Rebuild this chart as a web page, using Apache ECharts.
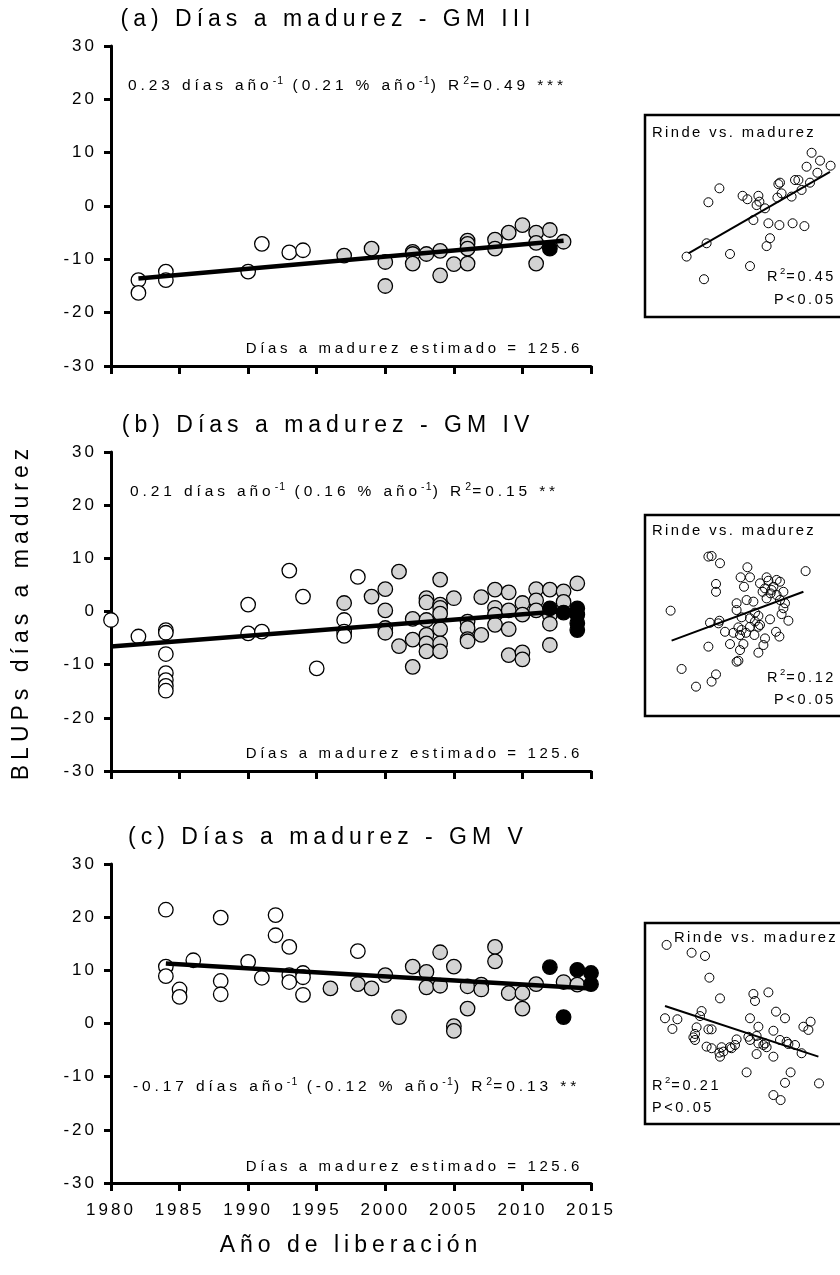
<!DOCTYPE html>
<html><head><meta charset="utf-8">
<script src="https://cdn.jsdelivr.net/npm/echarts@6/dist/echarts.min.js"></script>
<style>html,body{margin:0;padding:0;background:#fff}#c{width:840px;height:1275px}</style>
</head><body><div id="c"></div>
<script>
// ---------- DATA (year, BLUP days to maturity) ----------
const xTicks = [1980, 2015, 5];
const yTicks = [-30, 30, 10];

const gm3Blanco = [[1982,-13.9],[1982,-16.3],[1984,-12.3],[1984,-13.9],[1990,-12.3],[1991,-7.1],[1993,-8.7],[1994,-8.3]];
const gm3Gris = [[1997,-9.3],[1999,-8.0],[2000,-10.5],[2000,-15.0],[2002,-8.6],[2002,-9.0],[2002,-10.8],[2003,-9.0],[2004,-8.4],[2004,-13.0],[2005,-10.9],[2006,-6.5],[2006,-7.1],[2006,-8.0],[2006,-10.8],[2008,-6.3],[2008,-8.0],[2009,-5.0],[2010,-3.6],[2011,-5.0],[2011,-6.9],[2011,-10.8],[2012,-4.5],[2013,-6.7]];
const gm3Negro = [[2012,-8.0]];
const gm3Tendencia = [[1982,-13.6],[2013,-6.5]];

const gm4Blanco = [[1980,-1.6],[1982,-4.7],[1984,-3.5],[1984,-4.0],[1984,-8.0],[1984,-11.6],[1984,-12.9],[1984,-14.0],[1984,-14.9],[1990,1.3],[1990,-4.1],[1991,-3.8],[1993,7.7],[1994,2.8],[1995,-10.7],[1997,-1.6],[1997,-3.8],[1997,-4.6],[1998,6.5]];
const gm4Gris = [[1997,1.6],[1999,2.8],[2000,4.2],[2000,0.2],[2000,-3.1],[2000,-4.0],[2001,7.5],[2001,-6.5],[2002,-1.4],[2002,-5.3],[2002,-10.4],[2003,2.5],[2003,1.7],[2003,-1.6],[2003,-4.4],[2003,-6.0],[2003,-7.5],[2004,6.0],[2004,1.3],[2004,0.7],[2004,-0.4],[2004,-3.3],[2004,-6.0],[2004,-7.5],[2005,2.5],[2006,-1.9],[2006,-3.1],[2006,-5.2],[2006,-5.6],[2007,2.7],[2007,-4.4],[2008,4.1],[2008,0.7],[2008,-0.6],[2008,-2.5],[2009,3.6],[2009,0.2],[2009,-3.3],[2009,-8.2],[2010,1.6],[2010,-0.6],[2010,-7.7],[2010,-9.0],[2011,4.2],[2011,2.1],[2011,0.2],[2012,4.1],[2012,-0.7],[2012,-2.3],[2012,-6.3],[2013,3.8],[2013,1.8],[2014,5.3]];
const gm4Negro = [[2012,0.6],[2013,-0.2],[2014,0.6],[2014,-0.6],[2014,-2.2],[2014,-3.5]];
const gm4Tendencia = [[1980,-6.6],[2014,0.3]];

const gm5Blanco = [[1984,21.4],[1984,10.7],[1984,8.9],[1985,6.4],[1985,5.0],[1986,11.9],[1988,19.9],[1988,8.0],[1988,5.5],[1990,11.6],[1991,8.6],[1992,20.4],[1992,16.6],[1993,14.4],[1993,9.1],[1993,7.8],[1994,9.5],[1994,8.7],[1994,5.4],[1998,13.6]];
const gm5Gris = [[1996,6.6],[1998,7.4],[1999,6.6],[2000,9.1],[2001,1.2],[2002,10.7],[2003,9.7],[2003,6.8],[2004,13.4],[2004,7.1],[2005,10.7],[2005,-0.5],[2005,-1.4],[2006,7.0],[2006,2.8],[2007,7.3],[2007,6.4],[2008,14.4],[2008,11.7],[2009,5.7],[2010,5.7],[2010,2.8],[2011,7.4],[2013,7.8],[2014,7.3]];
const gm5Negro = [[2012,10.6],[2013,1.2],[2014,10.1],[2015,9.5],[2015,7.4]];
const gm5Tendencia = [[1984,11.3],[2015,6.6]];

// Insets: rinde vs. madurez (relative units 0-100)
const insetA = [[83.3,81.3],[87.5,77.4],[80.8,74.4],[92.8,74.9],[86.2,71.4],[67.5,66.5],[66.7,65.8],[75,67.8],[76.7,67.8],[82.5,66.5],[78.3,62.9],[37.2,63.7],[48.8,60.0],[56.7,60.0],[51.2,58.3],[31.7,56.8],[57.2,57.1],[55.8,55.4],[68.3,61.2],[66.2,59.1],[73.3,59.6],[60,53.8],[54.2,48.0],[61.7,46.4],[67.2,45.5],[73.8,46.4],[79.7,45.0],[62.5,39.0],[60.8,35.1],[30.8,36.5],[20.8,29.9],[42.5,31.2],[52.5,25.2],[29.5,18.7]];
const insetATendencia = [[21.7,31.5],[92.5,71.9]];
const insetB = [[31.7,79.3],[33.3,79.6],[37.5,76.0],[51.2,74.0],[80.3,72.1],[47.8,69.0],[52.5,69.0],[60.8,69.0],[65.8,67.7],[61.7,67.3],[67.5,66.8],[35.5,65.7],[49.5,64.3],[57.5,66.0],[60.0,63.5],[64.2,64.3],[63.3,62.7],[69.2,61.8],[35.5,61.8],[58.8,61.8],[62.8,61.0],[65.8,60.2],[50.8,57.7],[45.8,56.1],[54.2,56.9],[60.8,58.5],[67.5,57.7],[70.0,56.1],[12.8,52.4],[45.8,52.7],[55.0,51.4],[69.2,53.6],[68.3,50.7],[48.3,49.1],[52.5,48.6],[56.7,49.8],[71.7,47.4],[37.2,47.4],[32.5,46.4],[36.7,46.1],[55.0,47.0],[57.5,45.3],[62.5,48.1],[46.7,44.1],[48.3,42.8],[52.5,44.4],[56.7,44.4],[50.5,41.4],[40.0,41.9],[44.2,41.4],[47.5,40.3],[54.7,40.3],[65.5,41.9],[67.2,39.5],[60.0,38.6],[42.5,35.8],[49.2,35.8],[31.7,34.5],[59.2,35.3],[47.5,32.8],[56.7,31.5],[45.8,27.0],[46.7,27.5],[18.3,23.4],[35.5,20.7],[33.3,17.1],[25.5,14.6]];
const insetBTendencia = [[13.3,37.5],[79.2,61.8]];
const insetC = [[10.8,89.1],[23.3,85.2],[30.0,83.6],[32.2,72.8],[37.5,62.5],[54.2,64.7],[55.0,61.2],[61.7,65.5],[28.3,56.2],[27.5,53.7],[65.5,55.9],[10.0,52.6],[16.2,52.1],[52.5,52.6],[70.0,52.6],[82.8,50.9],[13.7,47.3],[56.7,48.4],[79.2,48.4],[81.7,46.8],[25.8,48.1],[31.7,47.1],[33.3,47.1],[64.2,46.4],[25.0,44.8],[24.2,43.1],[25.0,41.8],[30.8,38.5],[45.8,42.1],[45.0,39.3],[42.5,38.2],[33.3,37.7],[38.3,38.2],[39.2,36.0],[43.3,37.7],[51.7,43.4],[55.8,43.8],[52.5,41.8],[56.7,40.1],[59.2,39.3],[60.8,38.2],[60.0,40.1],[67.5,41.8],[70.8,40.9],[71.7,39.8],[75.0,39.3],[55.8,34.8],[64.2,33.5],[78.3,35.2],[37.5,33.5],[37.2,35.5],[50.8,25.7],[72.8,25.7],[70.0,20.5],[87.0,20.2],[64.2,14.4],[67.8,11.9]];
const insetCTendencia = [[10.0,58.7],[86.7,33.5]];

const titulos = ['(a) Días a madurez - GM III', '(b) Días a madurez - GM IV', '(c) Días a madurez - GM V'];
const regresiones = [
  '{t|0.23 días año}{s|-1}{t| (0.21 % año}{s|-1}{t|) R}{s|2}{t|=0.49 ***}',
  '{t|0.21 días año}{s|-1}{t| (0.16 % año}{s|-1}{t|) R}{s|2}{t|=0.15 **}',
  '{t|-0.17 días año}{s|-1}{t| (-0.12 % año}{s|-1}{t|) R}{s|2}{t|=0.13 **}'
];
const estimado = 'Días a madurez estimado = 125.6';
const insetR2 = ['{t|R}{s|2}{t|=0.45}', '{t|R}{s|2}{t|=0.12}', '{t|R}{s|2}{t|=0.21}'];
const insetP = 'P<0.05';
const insetTitulo = 'Rinde vs. madurez';

// ---------- letter spacing (Prism-like text) ----------
const SPACING = {'23':5, '17':3, '15.5':3.9, '10.5':1.2, '15':3.6, '14.5':2.6, '14.8':2.4, '9.5':1};
(function(){
  const P = CanvasRenderingContext2D.prototype;
  const d = Object.getOwnPropertyDescriptor(P, 'font');
  if (!d || !('letterSpacing' in P)) return;
  Object.defineProperty(P, 'font', {configurable:true, enumerable:d.enumerable,
    get(){ return d.get.call(this); },
    set(v){ d.set.call(this, v); const m = /(\d+(?:\.\d+)?)px/.exec(v); const s = m && SPACING[m[1]]; this.letterSpacing = (s || 0) + 'px'; }
  });
})();

const FONT = 'Liberation Sans';
const mainGrids = [{top:46,height:320},{top:452,height:319},{top:864,height:319}];
const insetGrids = [{top:115,height:202},{top:515,height:201},{top:923,height:201}];

const grid = [], xAxis = [], yAxis = [], series = [], graphic = [];
mainGrids.forEach((g, i) => {
  grid.push({left:111, width:480, top:g.top, height:g.height, outerBoundsMode:'none'});
  xAxis.push({type:'value', gridIndex:i, min:xTicks[0], max:xTicks[1], interval:xTicks[2],
    axisLine:{show:true, onZero:false, lineStyle:{color:'#000', width:3}},
    axisTick:{show:true, length:8, lineStyle:{color:'#000', width:3}},
    axisLabel:{show:i===2, color:'#000', fontSize:17, fontFamily:FONT, margin:17, formatter:v => String(v)},
    splitLine:{show:false}});
  yAxis.push({type:'value', gridIndex:i, min:yTicks[0], max:yTicks[1], interval:yTicks[2],
    axisLine:{show:true, onZero:false, lineStyle:{color:'#000', width:3}},
    axisTick:{show:true, length:7, lineStyle:{color:'#000', width:3}},
    axisLabel:{show:true, color:'#000', fontSize:17, fontFamily:FONT, margin:14, formatter:v => String(v)},
    splitLine:{show:false}});
});
insetGrids.forEach((g, i) => {
  grid.push({left:645, width:200, top:g.top, height:g.height, show:true, borderColor:'#000', borderWidth:2.5, backgroundColor:'#fff', outerBoundsMode:'none'});
  xAxis.push({type:'value', gridIndex:3+i, min:0, max:100, show:false, splitLine:{show:false}});
  yAxis.push({type:'value', gridIndex:3+i, min:0, max:100, show:false, splitLine:{show:false}});
});

function scatter(idx, data, color, size, bw){
  return {type:'scatter', xAxisIndex:idx, yAxisIndex:idx, data, symbol:'circle', symbolSize:size, clip:false, silent:true,
    itemStyle:{color, borderColor:'#000', borderWidth:bw, opacity:1}, emphasis:{disabled:true}, z:2};
}
function trend(idx, data, w){
  return {type:'line', xAxisIndex:idx, yAxisIndex:idx, data, showSymbol:false, symbol:'none', silent:true, clip:false,
    lineStyle:{color:'#000', width:w}, emphasis:{disabled:true}, z:3};
}
const panels = [[gm3Blanco,gm3Gris,gm3Negro,gm3Tendencia],[gm4Blanco,gm4Gris,gm4Negro,gm4Tendencia],[gm5Blanco,gm5Gris,gm5Negro,gm5Tendencia]];
panels.forEach((p, i) => {
  series.push(scatter(i, p[0], '#ffffff', 14.5, 1.3));
  series.push(scatter(i, p[1], '#d3d3d3', 14.5, 1.3));
  series.push(scatter(i, p[2], '#000000', 14.5, 1.3));
  series.push(trend(i, p[3], 4.5));
});
[[insetA,insetATendencia],[insetB,insetBTendencia],[insetC,insetCTendencia]].forEach((p, i) => {
  series.push(scatter(3+i, p[0], 'rgba(255,255,255,0)', 9, 1));
  series.push(trend(3+i, p[1], 2));
});

function txt(x, y, text, size, align, extra){
  return Object.assign({type:'text', x, y, silent:true, z:100,
    style:{text, fontSize:size, fontFamily:FONT, fill:'#000', align, textAlign:align, verticalAlign:'middle', textVerticalAlign:'middle'}}, extra||{});
}
function rich(x, y, text, size, sup, align){
  return {type:'text', x, y, silent:true, z:100,
    style:{text, fontFamily:FONT, fill:'#000', align, textAlign:align, verticalAlign:'middle', textVerticalAlign:'middle',
      rich:{t:{fontSize:size, fontFamily:FONT, color:'#000', lineHeight:size+5, verticalAlign:'bottom'},
            s:{fontSize:sup, fontFamily:FONT, color:'#000', lineHeight:sup+1, verticalAlign:'top'}}}};
}
const titleY = [20, 426, 838];
const regY = [85, 491, 1086];
const regX = [128, 130, 133];
const estY = [349, 754, 1167];
titulos.forEach((t, i) => {
  graphic.push(txt(328, titleY[i], t, 23, 'center'));
  graphic.push(rich(regX[i], regY[i], regresiones[i], 15.5, 10.5, 'left'));
  graphic.push(txt(583, estY[i], estimado, 15, 'right'));
});
// inset texts
graphic.push(txt(652, 133, insetTitulo, 14.8, 'left'));
graphic.push(rich(836, 276, insetR2[0], 14.5, 9.5, 'right'));
graphic.push(txt(836, 300, insetP, 14.5, 'right'));
graphic.push(txt(652, 531, insetTitulo, 14.8, 'left'));
graphic.push(rich(836, 677, insetR2[1], 14.5, 9.5, 'right'));
graphic.push(txt(836, 700, insetP, 14.5, 'right'));
graphic.push(txt(674, 938, insetTitulo, 14.8, 'left'));
graphic.push(rich(652, 1085, insetR2[2], 14.5, 9.5, 'left'));
graphic.push(txt(652, 1108, insetP, 14.5, 'left'));
// axis names
graphic.push(txt(22, 612, 'BLUPs días a madurez', 23, 'center', {rotation: Math.PI/2}));
graphic.push(txt(351, 1246, 'Año de liberación', 23, 'center'));

const chart = echarts.init(document.getElementById('c'), null, {renderer:'canvas'});
chart.setOption({
  animation:false,
  backgroundColor:'#ffffff',
  textStyle:{fontFamily:FONT},
  grid, xAxis, yAxis, series, graphic
});
</script></body></html>
